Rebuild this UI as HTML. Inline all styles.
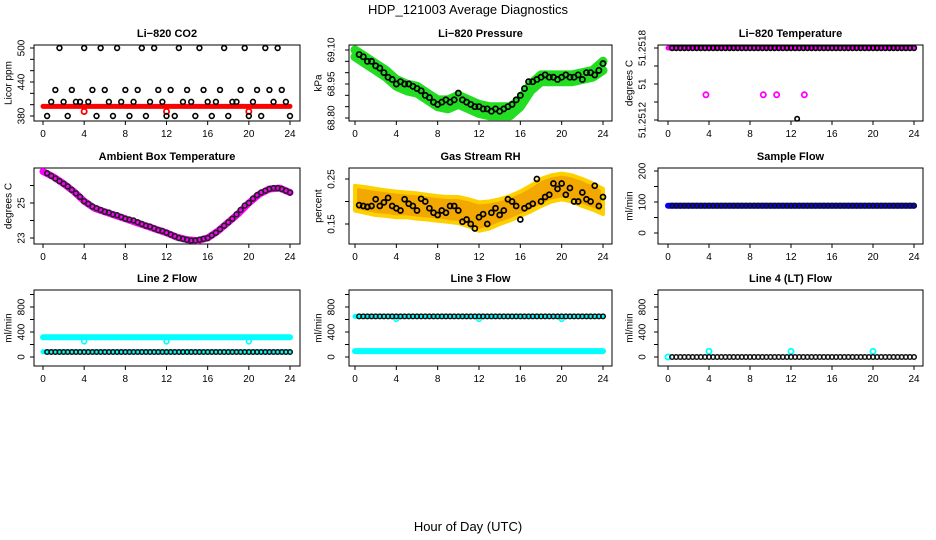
<!DOCTYPE html>
<html><head><meta charset="utf-8"><style>
html,body{margin:0;padding:0;background:#fff;}
svg{display:block;font-family:"Liberation Sans",sans-serif;}
</style></head><body>
<svg id="chart" width="936" height="540" viewBox="0 0 936 540" xmlns="http://www.w3.org/2000/svg">
<text x="468" y="14" font-size="13" text-anchor="middle">HDP_121003  Average Diagnostics</text>
<text x="468" y="531" font-size="13" text-anchor="middle">Hour of Day (UTC)</text>
</svg>
<script>
const hours=[0.4,0.8,1.2,1.6,2.0,2.4,2.8,3.2,3.6,4.0,4.4,4.8,5.2,5.6,6.0,6.4,6.8,7.2,7.6,8.0,8.4,8.8,9.2,9.6,10.0,10.4,10.8,11.2,11.6,12.0,12.4,12.8,13.2,13.6,14.0,14.4,14.8,15.2,15.6,16.0,16.4,16.8,17.2,17.6,18.0,18.4,18.8,19.2,19.6,20.0,20.4,20.8,21.2,21.6,22.0,22.4,22.8,23.2,23.6,24.0];
const hourly=[0,1,2,3,4,5,6,7,8,9,10,11,12,13,14,15,16,17,18,19,20,21,22,23,24];
const xTicks=[0,4,8,12,16,20,24];
const outlierHours=[4,12,20];
// CO2
const co2Black=[380,405,426,500,405,380,426,405,405,500,405,426,380,500,426,405,380,500,405,426,380,405,426,500,380,405,500,426,405,380,426,380,500,405,426,405,380,500,426,405,380,405,426,500,380,405,405,426,500,380,405,426,380,500,426,405,500,426,405,380];
const co2Red=[397,397,397,397,397,397,397,397,397,397,397,397,397,397,397,397,397,397,397,397,397,397,397,397,397];
const co2RedOut=[388,388,388];
// Pressure
const presBlack=[69.08,69.07,69.05,69.05,69.03,69.02,69.00,68.98,68.97,68.95,68.96,68.95,68.95,68.94,68.93,68.92,68.90,68.89,68.87,68.86,68.87,68.88,68.87,68.88,68.91,68.88,68.87,68.86,68.85,68.85,68.84,68.84,68.83,68.84,68.83,68.84,68.85,68.86,68.88,68.90,68.93,68.96,68.96,68.97,68.98,68.99,68.98,68.98,68.97,68.98,68.99,68.98,68.98,68.99,68.97,69.00,69.00,68.99,69.01,69.04];
const presGreenHigh=[69.10,69.07,69.04,69.01,68.97,68.95,68.94,68.91,68.88,68.88,68.90,68.88,68.86,68.85,68.85,68.85,68.88,68.95,68.99,68.99,68.99,68.99,69.00,69.01,69.05];
const presGreenLow=[69.07,69.04,69.01,68.98,68.94,68.92,68.91,68.88,68.85,68.84,68.86,68.84,68.82,68.81,68.81,68.81,68.85,68.92,68.96,68.96,68.96,68.96,68.97,68.98,69.01];
// Li-820 temperature
const tempBlack=[51.2518,51.2518,51.2518,51.2518,51.2518,51.2518,51.2518,51.2518,51.2518,51.2518,51.2518,51.2518,51.2518,51.2518,51.2518,51.2518,51.2518,51.2518,51.2518,51.2518,51.2518,51.2518,51.2518,51.2518,51.2518,51.2518,51.2518,51.2518,51.2518,51.2518,51.2518,51.2518,51.2518,51.2518,51.2518,51.2518,51.2518,51.2518,51.2518,51.2518,51.2518,51.2518,51.2518,51.2518,51.2518,51.2518,51.2518,51.2518,51.2518,51.2518,51.2518,51.2518,51.2518,51.2518,51.2518,51.2518,51.2518,51.2518,51.2518,51.2518];
const tempMagenta=[51.2518,51.2518,51.2518,51.2518,51.2518,51.2518,51.2518,51.2518,51.2518,51.2518,51.2518,51.2518,51.2518,51.2518,51.2518,51.2518,51.2518,51.2518,51.2518,51.2518,51.2518,51.2518,51.2518,51.2518,51.2518];
const tempOutHours=[3.7,9.3,10.6,13.3];
const tempOutVals=[51.25141,51.25141,51.25141,51.25141];
const tempBlackOutHour=[12.6];
const tempBlackOutVal=[51.25121];
// Ambient temperature
const ambBlack=[26.7,26.55,26.4,26.25,26.1,25.95,25.75,25.55,25.35,25.1,24.95,24.8,24.7,24.6,24.5,24.45,24.35,24.3,24.2,24.1,24.05,24.0,23.9,23.8,23.7,23.65,23.55,23.45,23.4,23.3,23.2,23.1,23.0,22.95,22.9,22.85,22.85,22.9,22.95,23.0,23.15,23.3,23.5,23.7,23.9,24.1,24.35,24.6,24.85,25.0,25.25,25.45,25.6,25.7,25.8,25.85,25.85,25.8,25.7,25.6];
const ambMagenta=[26.8,26.5,26.1,25.65,25.1,24.7,24.5,24.3,24.1,23.9,23.7,23.5,23.3,23.05,22.9,22.85,23.0,23.4,23.9,24.4,25.0,25.5,25.8,25.85,25.6];
// RH
const rhBlack=[0.192,0.19,0.188,0.19,0.205,0.19,0.198,0.208,0.19,0.185,0.18,0.205,0.195,0.19,0.18,0.206,0.2,0.185,0.175,0.17,0.18,0.175,0.19,0.19,0.18,0.155,0.16,0.15,0.14,0.165,0.172,0.15,0.175,0.185,0.17,0.18,0.205,0.2,0.19,0.16,0.185,0.19,0.195,0.25,0.2,0.21,0.215,0.24,0.228,0.24,0.215,0.23,0.2,0.2,0.22,0.205,0.2,0.235,0.19,0.21];
const rhHigh=[0.235,0.232,0.228,0.225,0.222,0.22,0.218,0.215,0.212,0.21,0.21,0.205,0.198,0.2,0.205,0.212,0.222,0.235,0.25,0.258,0.262,0.258,0.25,0.24,0.228];
const rhLow=[0.18,0.175,0.17,0.168,0.165,0.165,0.162,0.16,0.157,0.155,0.152,0.145,0.135,0.14,0.15,0.158,0.168,0.178,0.19,0.2,0.205,0.2,0.19,0.182,0.172];
// Flows
const sampleBlack=[88,88,88,88,88,88,88,88,88,88,88,88,88,88,88,88,88,88,88,88,88,88,88,88,88,88,88,88,88,88,88,88,88,88,88,88,88,88,88,88,88,88,88,88,88,88,88,88,88,88,88,88,88,88,88,88,88,88,88,88];
const sampleBlue=[88,88,88,88,88,88,88,88,88,88,88,88,88,88,88,88,88,88,88,88,88,88,88,88,88];
const line2Black=[80,80,80,80,80,80,80,80,80,80,80,80,80,80,80,80,80,80,80,80,80,80,80,80,80,80,80,80,80,80,80,80,80,80,80,80,80,80,80,80,80,80,80,80,80,80,80,80,80,80,80,80,80,80,80,80,80,80,80,80];
const line2CyanHigh=[315,315,315,315,315,315,315,315,315,315,315,315,315,315,315,315,315,315,315,315,315,315,315,315,315];
const line2CyanLow=[85,85,85,85,85,85,85,85,85,85,85,85,85,85,85,85,85,85,85,85,85,85,85,85,85];
const line2CyanOut=[250,250,250];
const line3Black=[650,650,650,650,650,650,650,650,650,650,650,650,650,650,650,650,650,650,650,650,650,650,650,650,650,650,650,650,650,650,650,650,650,650,650,650,650,650,650,650,650,650,650,650,650,650,650,650,650,650,650,650,650,650,650,650,650,650,650,650];
const line3CyanHigh=[650,650,650,650,650,650,650,650,650,650,650,650,650,650,650,650,650,650,650,650,650,650,650,650,650];
const line3CyanLow=[95,95,95,95,95,95,95,95,95,95,95,95,95,95,95,95,95,95,95,95,95,95,95,95,95];
const line3CyanOut=[610,610,610];
const line4Black=[0,0,0,0,0,0,0,0,0,0,0,0,0,0,0,0,0,0,0,0,0,0,0,0,0,0,0,0,0,0,0,0,0,0,0,0,0,0,0,0,0,0,0,0,0,0,0,0,0,0,0,0,0,0,0,0,0,0,0,0];
const line4Cyan=[0];
const line4CyanOut=[90,90,90];

const NS="http://www.w3.org/2000/svg";
const svg=document.getElementById('chart');
function mk(tag,attrs,parent){const e=document.createElementNS(NS,tag);for(const k in attrs)e.setAttribute(k,attrs[k]);(parent||svg).appendChild(e);return e;}
const cols=[{x0:43,x24:290,L:34,R:300,yl:9,tl:22},{x0:355,x24:603,L:349,R:612,yl:319,tl:332},{x0:668,x24:914,L:658,R:923,yl:630,tl:643}];
const rows=[{T:45,B:121},{T:168,B:244},{T:290,B:366}];

function panel(c,r,title,ylab,v0,y0,v1,y1,ticks,labels,key){
  const C=cols[c],R=rows[r];
  const g=mk('g',{});
  
  
  const xs=h=>C.x0+(C.x24-C.x0)*h/24;
  const ys=v=>y0+(y1-y0)*(v-v0)/(v1-v0);
  const box=mk('rect',{x:C.L,y:R.T,width:C.R-C.L,height:R.B-R.T,fill:'none',stroke:'#000','stroke-width':1},g);
  
  
  const t=mk('text',{x:(C.L+C.R)/2,y:R.T-8,'font-size':11,'font-weight':'bold','text-anchor':'middle'},g);
  
  
  t.textContent=title;
  const yl=mk('text',{x:C.yl,y:(R.T+R.B)/2,'font-size':10,'text-anchor':'middle',transform:`rotate(-90 ${C.yl} ${(R.T+R.B)/2})`,'dominant-baseline':'middle'},g);
  
  
  yl.textContent=ylab;
  xTicks.forEach(h=>{
    const tk=mk('line',{x1:xs(h),x2:xs(h),y1:R.B,y2:R.B+4,stroke:'#000'},g);
    
    
    const tl=mk('text',{x:xs(h),y:R.B+16,'font-size':10,'text-anchor':'middle'},g);
    
    
    tl.textContent=h;
  });
  ticks.forEach((v,i)=>{
    const y=ys(v);
    const tk=mk('line',{x1:C.L-4,x2:C.L,y1:y,y2:y,stroke:'#000'},g);
    
    
    if(labels[i]){
      const tl=mk('text',{x:C.tl,y:y,'font-size':10,'text-anchor':'middle',transform:`rotate(-90 ${C.tl} ${y})`,'dominant-baseline':'middle'},g);
      
      
      tl.textContent=labels[i];
    }
  });
  return {g,xs,ys};
}
function band(p,hs,vals,color,w,name){
  const pts=hs.map((h,i)=>p.xs(h).toFixed(1)+','+p.ys(vals[i]).toFixed(1)).join(' ');
  const e=mk('polyline',{points:pts,fill:'none',stroke:color,'stroke-width':w,'stroke-linecap':'round','stroke-linejoin':'round'},p.g);
  
  
}
function area(p,hs,hi,lo,color,name){
  const up=hs.map((h,i)=>p.xs(h).toFixed(1)+','+p.ys(hi[i]).toFixed(1));
  const dn=hs.map((h,i)=>p.xs(h).toFixed(1)+','+p.ys(lo[i]).toFixed(1)).reverse();
  const e=mk('polygon',{points:up.concat(dn).join(' '),fill:color,stroke:'#ffd000','stroke-width':4,'stroke-linejoin':'round'},p.g);
  
  
}
function pts(p,hs,vals,color,r,name,sw){
  hs.forEach((h,i)=>{
    const e=mk('circle',{cx:p.xs(h),cy:p.ys(vals[i]),r:r,fill:'none',stroke:color,'stroke-width':sw||1.4},p.g);
    
    
  });
}
// Row 1
let p=panel(0,0,'Li\u2212820 CO2','Licor ppm',380,116,500,48,[380,400,420,440,460,480,500],['380','','','440','','','500'],'co2');
band(p,hourly,co2Red,'#ff0000',5,'co2-red-series');
pts(p,outlierHours,co2RedOut,'#ff0000',2.6,'co2-red-outlier',1.8);
pts(p,hours,co2Black,'#000',2.4,'co2-black-point',1.6);
p=panel(1,0,'Li\u2212820 Pressure','kPa',68.80,118,69.10,50,[68.80,68.85,68.90,68.95,69.00,69.05,69.10],['68.80','','','68.95','','','69.10'],'pressure');
band(p,hourly,presGreenHigh,'#22dd22',9,'pressure-green-upper');
band(p,hourly,presGreenLow,'#22dd22',9,'pressure-green-lower');
pts(p,hours,presBlack,'#000',2.6,'pressure-black-point',1.7);
p=panel(2,0,'Li\u2212820 Temperature','degrees C',51.2512,120,51.2518,48,[51.2512,51.25135,51.2515,51.25165,51.2518],['51.2512','','51','51.2518'.slice(0,0),'51.2518'],'li820-temp');
band(p,hourly,tempMagenta,'#ff00ff',5,'li820-temp-magenta');
pts(p,tempOutHours,tempOutVals,'#ff00ff',2.6,'li820-temp-magenta-outlier',1.8);
pts(p,hours,tempBlack,'#000',2.4,'li820-temp-black-point',1.6);
pts(p,tempBlackOutHour,tempBlackOutVal,'#000',2.2,'li820-temp-black-outlier',1.6);
// Row 2
p=panel(0,1,'Ambient Box Temperature','degrees C',23,238,25,203,[23,24,25,26],['23','','25',''],'ambient');
band(p,hourly,ambMagenta,'#ff00ff',7,'ambient-magenta-series');
pts(p,hours,ambBlack,'#222',2.4,'ambient-black-point',1.6);
p=panel(1,1,'Gas Stream RH','percent',0.15,224,0.25,179,[0.15,0.20,0.25],['0.15','','0.25'],'rh');
area(p,hourly,rhHigh,rhLow,'#f2a800','rh-orange-band');
pts(p,hours,rhBlack,'#000',2.5,'rh-black-point',1.7);
p=panel(2,1,'Sample Flow','ml/min',0,233,200,171,[0,50,100,150,200],['0','','100','','200'],'sample-flow');
band(p,hourly,sampleBlue,'#0000ff',6,'sample-flow-blue');
pts(p,hours,sampleBlack,'#111',2.3,'sample-flow-black-point',1.5);
// Row 3
const fT=[0,200,400,600,800,1000],fL=['0','','400','','800',''];
p=panel(0,2,'Line 2 Flow','ml/min',0,357,800,307,fT,fL,'line2');
band(p,hourly,line2CyanHigh,'#00ffff',6,'line2-cyan-high');
band(p,hourly,line2CyanLow,'#00ffff',5,'line2-cyan-low');
pts(p,outlierHours,line2CyanOut,'#00ffff',2.4,'line2-cyan-outlier',1.6);
pts(p,hours,line2Black,'#111',2.3,'line2-black-point',1.5);
p=panel(1,2,'Line 3 Flow','ml/min',0,357,800,307,fT,fL,'line3');
band(p,hourly,line3CyanHigh,'#00ffff',5,'line3-cyan-high');
band(p,hourly,line3CyanLow,'#00ffff',6,'line3-cyan-low');
pts(p,outlierHours,line3CyanOut,'#00ffff',2.4,'line3-cyan-outlier',1.6);
pts(p,hours,line3Black,'#111',2.3,'line3-black-point',1.5);
p=panel(2,2,'Line 4 (LT) Flow','ml/min',0,357,800,307,fT,fL,'line4');
pts(p,[0],line4Cyan,'#00ffff',2.6,'line4-cyan-point',1.8);
pts(p,outlierHours,line4CyanOut,'#00ffff',2.6,'line4-cyan-outlier',1.8);
pts(p,hours,line4Black,'#111',2.3,'line4-black-point',1.5);
</script>
</body></html>
